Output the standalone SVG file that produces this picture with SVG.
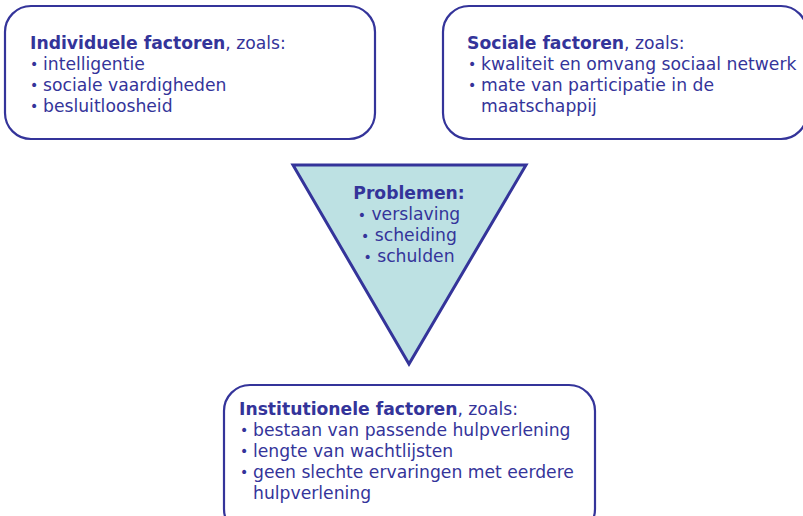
<svg xmlns="http://www.w3.org/2000/svg" width="803" height="516" viewBox="0 0 803 516">
<style>
.box{fill:#fff;stroke:#34349a;stroke-width:2.2}
.tri{fill:#bde1e3;stroke:#34349a;stroke-width:3;stroke-linejoin:miter}
text{font-family:"DejaVu Sans",Verdana,sans-serif;font-size:17.2px;fill:#34349a}
.b{font-weight:bold}
.c{text-anchor:middle}
.d{font-size:14px}
</style>
<g id="individuele">
<rect class="box" x="5" y="6" width="370" height="133" rx="26" ry="26"/>
<text x="30" y="49"><tspan class="b">Individuele factoren</tspan>, zoals:</text>
<text class="d" x="30" y="69">•</text><text x="43" y="70">intelligentie</text>
<text class="d" x="30" y="90">•</text><text x="43" y="91">sociale vaardigheden</text>
<text class="d" x="30" y="111">•</text><text x="43" y="112">besluitloosheid</text>
</g>
<g id="sociale">
<rect class="box" x="443" y="6" width="364" height="133" rx="26" ry="26"/>
<text x="467" y="49"><tspan class="b">Sociale factoren</tspan>, zoals:</text>
<text class="d" x="468" y="69">•</text><text x="481" y="70">kwaliteit en omvang sociaal netwerk</text>
<text class="d" x="468" y="90">•</text><text x="481" y="91">mate van participatie in de</text>
<text x="481" y="112">maatschappij</text>
</g>
<g id="problemen">
<polygon class="tri" points="293,165 526,165 409,364"/>
<text class="c b" x="409" y="199">Problemen:</text>
<text class="c" x="409" y="220"><tspan class="d">•</tspan> verslaving</text>
<text class="c" x="409" y="241"><tspan class="d">•</tspan> scheiding</text>
<text class="c" x="409" y="262"><tspan class="d">•</tspan> schulden</text>
</g>
<g id="institutionele">
<rect class="box" x="224" y="385" width="371" height="150" rx="26" ry="26"/>
<text x="239" y="415"><tspan class="b">Institutionele factoren</tspan>, zoals:</text>
<text class="d" x="240" y="435">•</text><text x="253" y="436">bestaan van passende hulpverlening</text>
<text class="d" x="240" y="456">•</text><text x="253" y="457">lengte van wachtlijsten</text>
<text class="d" x="240" y="477">•</text><text x="253" y="478">geen slechte ervaringen met eerdere</text>
<text x="253" y="499">hulpverlening</text>
</g>
<g id="connectors"></g>
</svg>
